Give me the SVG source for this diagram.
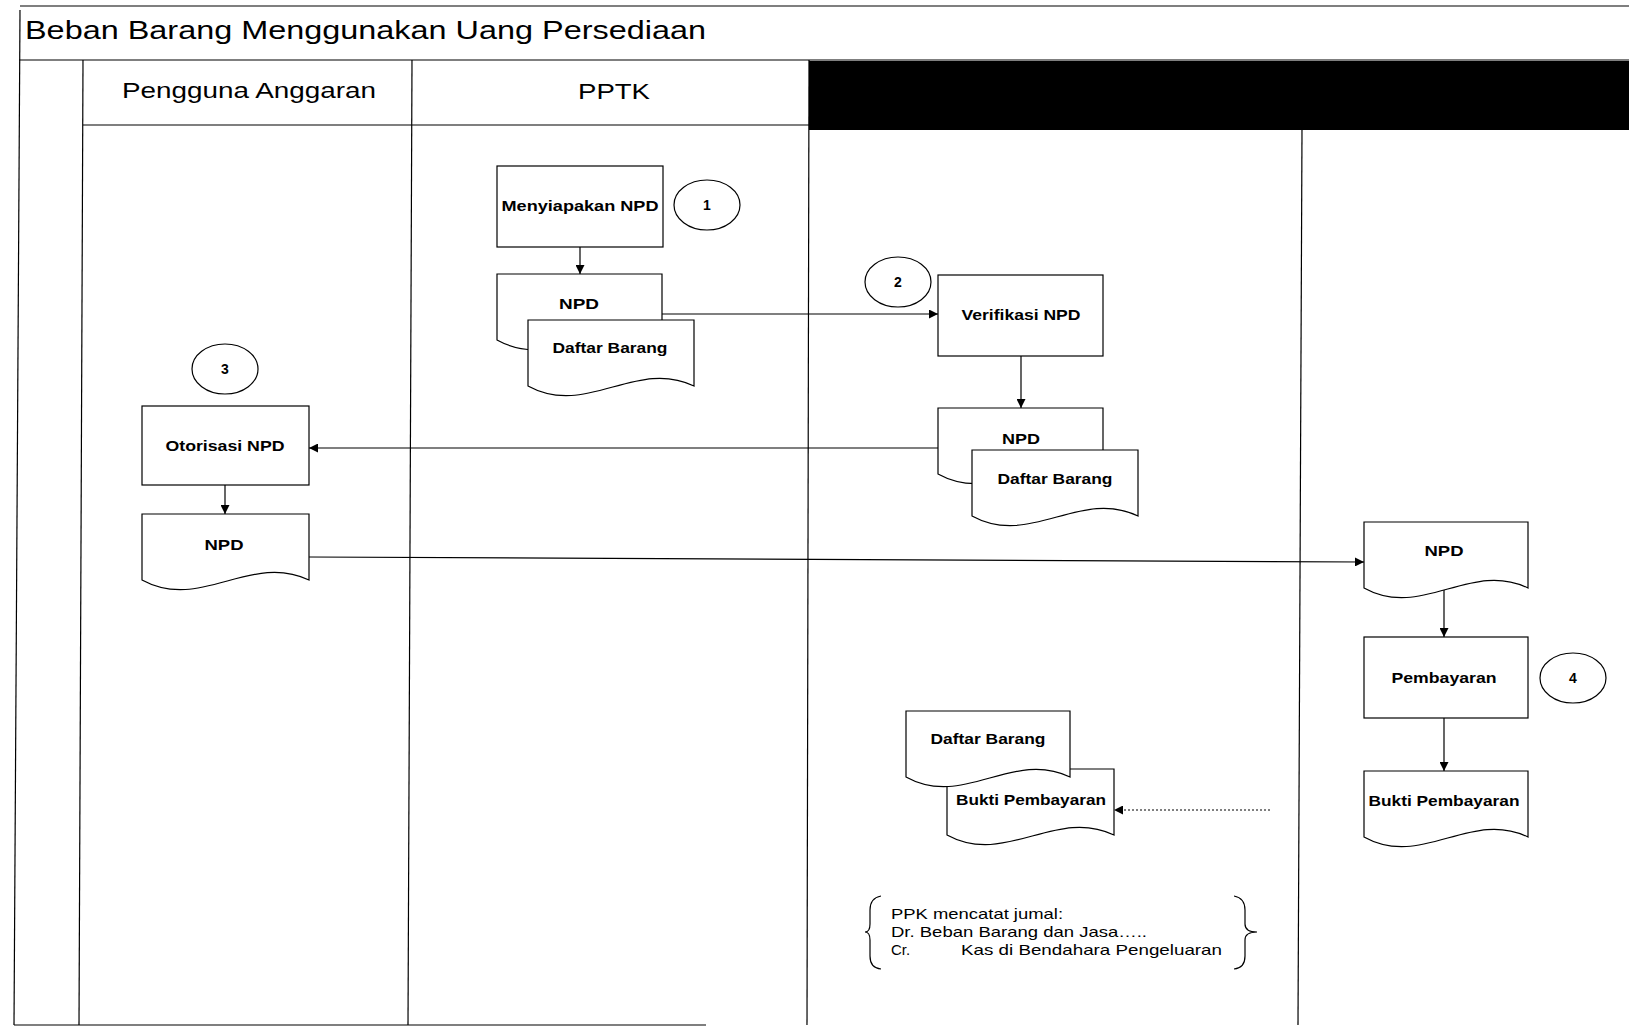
<svg xmlns="http://www.w3.org/2000/svg" width="1629" height="1028" viewBox="0 0 1629 1028">
<defs>
<style>
.ln{fill:none;stroke:#000;stroke-width:1.2}
.box{fill:#fff;stroke:#000;stroke-width:1.2}
.lbl{font-family:"Liberation Sans",Arial,sans-serif;font-size:15px;font-weight:bold;fill:#000;text-anchor:middle}
.num{font-family:"Liberation Sans",Arial,sans-serif;font-size:14px;font-weight:bold;fill:#000;text-anchor:middle}
.hdr{font-family:"Liberation Sans",Arial,sans-serif;font-size:22px;fill:#000}
.note{font-family:"Liberation Sans",Arial,sans-serif;font-size:15px;fill:#000}
.conn{fill:none;stroke:#000;stroke-width:1.2}
</style>
<marker id="ah" viewBox="0 0 10 10" refX="10" refY="5" markerWidth="11" markerHeight="9" markerUnits="userSpaceOnUse" orient="auto">
<path d="M0,0 L10,5 L0,10 z" fill="#000"/>
</marker>
</defs>
<rect x="0" y="0" width="1629" height="1028" fill="#fff"/>

<g id="frame">
<line class="ln" x1="20" y1="6" x2="1629" y2="6"/>
<line class="ln" x1="20" y1="10" x2="14" y2="1025"/>
<line class="ln" x1="19" y1="60" x2="1629" y2="60"/>
<rect x="809" y="61" width="820" height="69" fill="#000"/>
<line class="ln" x1="83" y1="125" x2="809" y2="125"/>
<line class="ln" x1="83" y1="60" x2="79" y2="1025"/>
<line class="ln" x1="412" y1="60" x2="408" y2="1025"/>
<line class="ln" x1="809" y1="60" x2="807" y2="1025"/>
<line class="ln" x1="1302" y1="130" x2="1298" y2="1025"/>
<line class="ln" x1="14" y1="1025" x2="706" y2="1025"/>
<text x="25" y="39" font-family="Liberation Sans, Arial, sans-serif" font-size="26" textLength="681" lengthAdjust="spacingAndGlyphs">Beban Barang Menggunakan Uang Persediaan</text>
<text class="hdr" x="122" y="98" textLength="254" lengthAdjust="spacingAndGlyphs">Pengguna Anggaran</text>
<text class="hdr" x="578" y="99" textLength="72" lengthAdjust="spacingAndGlyphs">PPTK</text>
</g>

<g id="connectors">
<line class="conn" x1="580" y1="247" x2="580" y2="274" marker-end="url(#ah)"/>
<line class="conn" x1="662" y1="314" x2="938" y2="314" marker-end="url(#ah)"/>
<line class="conn" x1="1021" y1="356" x2="1021" y2="408" marker-end="url(#ah)"/>
<line class="conn" x1="938" y1="448" x2="309" y2="448" marker-end="url(#ah)"/>
<line class="conn" x1="225" y1="485" x2="225" y2="514" marker-end="url(#ah)"/>
<line class="conn" x1="309" y1="557" x2="1364" y2="562" marker-end="url(#ah)"/>
<line class="conn" x1="1444" y1="590" x2="1444" y2="637" marker-end="url(#ah)"/>
<line class="conn" x1="1444" y1="718" x2="1444" y2="771" marker-end="url(#ah)"/>
<line class="conn" x1="1270" y1="810" x2="1114" y2="810" stroke-dasharray="2,2" marker-end="url(#ah)"/>
</g>

<g id="menyiapakan-npd">
<rect class="box" x="497" y="166" width="166" height="81"/>
<text class="lbl" x="580" y="211" textLength="157" lengthAdjust="spacingAndGlyphs">Menyiapakan NPD</text>
</g>
<g id="step-1">
<ellipse class="box" cx="707" cy="205" rx="33" ry="25"/>
<text class="num" x="707" y="210">1</text>
</g>
<g id="npd-pptk">
<path class="box" d="M497,274 H662 V340 C604.25,312 554.75,372 497,340 Z"/>
<text class="lbl" x="579" y="309" textLength="40" lengthAdjust="spacingAndGlyphs">NPD</text>
</g>
<g id="daftar-barang-pptk">
<path class="box" d="M528,320 H694 V386 C635.9,358 586.1,418 528,386 Z"/>
<text class="lbl" x="610" y="353" textLength="115" lengthAdjust="spacingAndGlyphs">Daftar Barang</text>
</g>

<g id="step-2">
<ellipse class="box" cx="898" cy="282" rx="33" ry="25"/>
<text class="num" x="898" y="287">2</text>
</g>
<g id="verifikasi-npd">
<rect class="box" x="938" y="275" width="165" height="81"/>
<text class="lbl" x="1021" y="320" textLength="119" lengthAdjust="spacingAndGlyphs">Verifikasi NPD</text>
</g>
<g id="npd-ppk">
<path class="box" d="M938,408 H1103 V474 C1045.25,446 995.75,506 938,474 Z"/>
<text class="lbl" x="1021" y="444" textLength="38" lengthAdjust="spacingAndGlyphs">NPD</text>
</g>
<g id="daftar-barang-ppk">
<path class="box" d="M972,450 H1138 V516 C1079.9,488 1030.1,548 972,516 Z"/>
<text class="lbl" x="1055" y="484" textLength="115" lengthAdjust="spacingAndGlyphs">Daftar Barang</text>
</g>

<g id="step-3">
<ellipse class="box" cx="225" cy="369" rx="33" ry="25"/>
<text class="num" x="225" y="374">3</text>
</g>
<g id="otorisasi-npd">
<rect class="box" x="142" y="406" width="167" height="79"/>
<text class="lbl" x="225" y="451" textLength="119" lengthAdjust="spacingAndGlyphs">Otorisasi NPD</text>
</g>
<g id="npd-pa">
<path class="box" d="M142,514 H309 V580 C250.55,552 200.45,612 142,580 Z"/>
<text class="lbl" x="224" y="550" textLength="39" lengthAdjust="spacingAndGlyphs">NPD</text>
</g>

<g id="npd-bendahara">
<path class="box" d="M1364,522 H1528 V588 C1470.6,560 1421.4,620 1364,588 Z"/>
<text class="lbl" x="1444" y="556" textLength="39" lengthAdjust="spacingAndGlyphs">NPD</text>
</g>
<g id="pembayaran">
<rect class="box" x="1364" y="637" width="164" height="81"/>
<text class="lbl" x="1444" y="683" textLength="105" lengthAdjust="spacingAndGlyphs">Pembayaran</text>
</g>
<g id="step-4">
<ellipse class="box" cx="1573" cy="678" rx="33" ry="25"/>
<text class="num" x="1573" y="683">4</text>
</g>
<g id="bukti-pembayaran-bendahara">
<path class="box" d="M1364,771 H1528 V837 C1470.6,809 1421.4,869 1364,837 Z"/>
<text class="lbl" x="1444" y="806" textLength="151" lengthAdjust="spacingAndGlyphs">Bukti Pembayaran</text>
</g>

<g id="bukti-pembayaran-ppk">
<path class="box" d="M947,769 H1114 V835 C1055.55,807 1005.45,867 947,835 Z"/>
<text class="lbl" x="1031" y="805" textLength="150" lengthAdjust="spacingAndGlyphs">Bukti Pembayaran</text>
</g>
<g id="daftar-barang-arsip">
<path class="box" d="M906,711 H1070 V777 C1012.6,749 963.4,809 906,777 Z"/>
<text class="lbl" x="988" y="744" textLength="115" lengthAdjust="spacingAndGlyphs">Daftar Barang</text>
</g>

<g id="jurnal-note">
<path class="ln" d="M881,896 Q870,898 870,910 L870,924 Q870,932 865,932 Q870,932 870,940 L870,956 Q870,968 881,969"/>
<path class="ln" d="M1234,896 Q1245,898 1245,910 L1245,924 Q1245,932 1257,932 Q1245,932 1245,940 L1245,956 Q1245,968 1234,969"/>
<text class="note" x="891" y="919" textLength="172" lengthAdjust="spacingAndGlyphs">PPK mencatat jumal:</text>
<text class="note" x="891" y="937" textLength="256" lengthAdjust="spacingAndGlyphs">Dr. Beban Barang dan Jasa…..</text>
<text class="note" x="891" y="955">Cr.</text>
<text class="note" x="961" y="955" textLength="261" lengthAdjust="spacingAndGlyphs">Kas di Bendahara Pengeluaran</text>
</g>
</svg>
